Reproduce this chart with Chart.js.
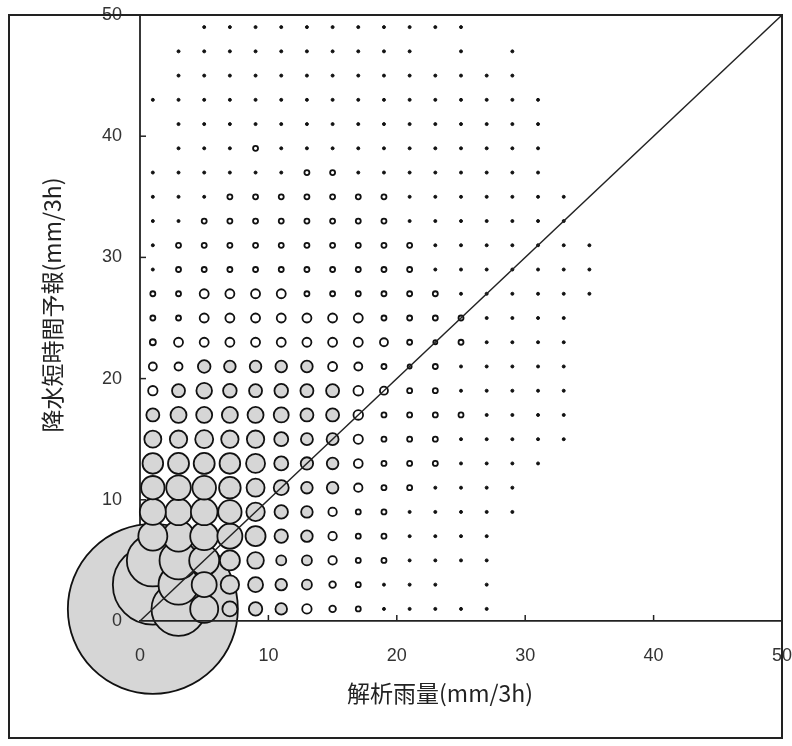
<!DOCTYPE html>
<html>
<head>
<meta charset="utf-8">
<script src="https://cdn.jsdelivr.net/npm/chart.js@4.4.1/dist/chart.umd.min.js"></script>
<style>
  html, body { margin: 0; padding: 0; background: #fff; }
  #wrap { width: 792px; height: 746px; }
</style>
</head>
<body>
<div id="wrap"><canvas id="c" width="792" height="746"></canvas></div>
<script>
// x categories: analysed rainfall class centres (mm/3h)
const analysisRain = [1,3,5,7,9,11,13,15,17,19,21,23,25,27,29,31,33,35];
// y categories: forecast rainfall class centres (mm/3h)
const forecastRain = [49,47,45,43,41,39,37,35,33,31,29,27,25,23,21,19,17,15,13,11,9,7,5,3,1];
// bubble radius (frequency) for each row, columns follow analysisRain; 0 = no data
const row49 = [0,0,1.5,1.5,1.5,1.5,1.5,1.5,1.5,1.5, 1.5,1.5,1.5,0,0,0,0,0];
const row47 = [0,1.5,1.5,1.5,1.5,1.5,1.5,1.5,1.5,1.5, 1.5,0,1.5,0,1.5,0,0,0];
const row45 = [0,1.5,1.5,1.5,1.5,1.5,1.5,1.5,1.5,1.5, 1.5,1.5,1.5,1.5,1.5,0,0,0];
const row43 = [1.5,1.5,1.5,1.5,1.5,1.5,1.5,1.5,1.5,1.5, 1.5,1.5,1.5,1.5,1.5,1.5,0,0];
const row41 = [0,1.5,1.5,1.5,1.5,1.5,1.5,1.5,1.5,1.5, 1.5,1.5,1.5,1.5,1.5,1.5,0,0];
const row39 = [0,1.5,1.5,1.5,2.5,1.5,1.5,1.5,1.5,1.5, 1.5,1.5,1.5,1.5,1.5,1.5,0,0];
const row37 = [1.5,1.5,1.5,1.5,1.5,1.5,2.5,2.5,1.5,1.5, 1.5,1.5,1.5,1.5,1.5,1.5,0,0];
const row35 = [1.5,1.5,1.5,2.5,2.5,2.5,2.5,2.5,2.5,2.5, 1.5,1.5,1.5,1.5,1.5,1.5,1.5,0];
const row33 = [1.5,1.5,2.5,2.5,2.5,2.5,2.5,2.5,2.5,2.5, 1.5,1.5,1.5,1.5,1.5,1.5,1.5,0];
const row31 = [1.5,2.5,2.5,2.5,2.5,2.5,2.5,2.5,2.5,2.5, 2.5,1.5,1.5,1.5,1.5,1.5,1.5,1.5];
const row29 = [1.5,2.5,2.5,2.5,2.5,2.5,2.5,2.5,2.5,2.5, 2.5,1.5,1.5,1.5,1.5,1.5,1.5,1.5];
const row27 = [2.5,2.5,4.5,4.5,4.5,4.5,2.5,2.5,2.5,2.5, 2.5,2.5,1.5,1.5,1.5,1.5,1.5,1.5];
const row25 = [2.5,2.5,4.5,4.5,4.5,4.5,4.5,4.5,4.5,2.5, 2.5,2.5,2.5,1.5,1.5,1.5,1.5,0];
const row23 = [3,4.5,4.5,4.5,4.5,4.5,4.5,4.5,4.5,4, 2.5,2,2.5,1.5,1.5,1.5,1.5,0];
const row21 = [4,4,6.3,5.8,5.8,5.8,5.8,4.5,4,2.5, 2,2.5,1.5,1.5,1.5,1.5,1.5,0];
const row19 = [4.7,6.5,7.8,6.8,6.5,6.8,6.5,6.5,4.8,4, 2.5,2.5,1.5,1.5,1.5,1.5,1.5,0];
const row17 = [6.5,8,8,8,8,7.5,6.5,6.5,4.8,2.5, 2.5,2.5,2.5,1.5,1.5,1.5,1.5,0];
const row15 = [8.5,8.7,9,8.7,8.7,7,6,6,4.6,2.5, 2.5,2.5,1.5,1.5,1.5,1.5,1.5,0];
const row13 = [10.3,10.5,10.5,10.3,9.5,7,6.2,5.8,4.4,2.5, 2.5,2.5,1.5,1.5,1.5,1.5,0,0];
const row11 = [11.7,12.3,11.8,10.8,9,7.5,5.8,5.8,4.2,2.5, 2.5,1.5,1.5,1.5,1.5,0,0,0];
const row9  = [13,13.3,13.3,11.7,9.2,6.7,5.8,4.2,2.5,2.5, 1.5,1.5,1.5,1.5,1.5,0,0,0];
const row7  = [14.5,15.5,14,12.5,10,6.7,5.8,4.2,2.5,2.5, 1.5,1.5,1.5,1.5,0,0,0,0];
const row5  = [26,19,15,10,8.3,5,5,4.2,2.5,2.5, 1.5,1.5,1.5,1.5,0,0,0,0];
const row3  = [40,20,12.5,9.2,7.5,5.8,5,3.3,2.5,1.5, 1.5,1.5,0,1.5,0,0,0,0];
const row1  = [85,27,14,7.5,6.7,5.8,4.7,3.3,2.5,1.5, 1.5,1.5,1.5,1.5,0,0,0,0];
const sizeRows = [row49,row47,row45,row43,row41,row39,row37,row35,row33,row31,row29,row27,row25,
                  row23,row21,row19,row17,row15,row13,row11,row9,row7,row5,row3,row1];
// axis ticks and 1:1 reference line
const tickValues = [0,10,20,30,40,50];
const diagonal = [{x:0,y:0},{x:50,y:50}];
const xTitle = '解析雨量(mm/3h)';
const yTitle = '降水短時間予報(mm/3h)';

// build bubble points (largest drawn first)
const points = [];
forecastRain.forEach((yv, ri) => {
  analysisRain.forEach((xv, ci) => {
    const r = sizeRows[ri][ci];
    if (r > 0) points.push({x: xv, y: yv, r: r});
  });
});
points.sort((a, b) => b.r - a.r);

const NUM_FONT = {family: '"Liberation Sans", Arial, sans-serif', size: 18};
const INK = '#222';

const decor = {
  id: 'decor',
  beforeDatasetsDraw(chart) {
    const {ctx, chartArea: a} = chart;
    ctx.save();
    ctx.strokeStyle = INK;
    ctx.lineWidth = 1.8;
    ctx.beginPath(); ctx.moveTo(a.left, a.top); ctx.lineTo(a.left, a.bottom); ctx.stroke();
    ctx.restore();
  },
  afterDraw(chart) {
    const {ctx, chartArea: a, scales: {x, y}} = chart;
    ctx.save();
    ctx.strokeStyle = INK;
    ctx.lineWidth = 1.5;
    tickValues.slice(1, -1).forEach(v => {
      const px = x.getPixelForValue(v);
      ctx.beginPath(); ctx.moveTo(px, a.bottom); ctx.lineTo(px, a.bottom - 6); ctx.stroke();
      const py = y.getPixelForValue(v);
      ctx.beginPath(); ctx.moveTo(a.left, py); ctx.lineTo(a.left + 6, py); ctx.stroke();
    });
    // outer frame
    ctx.lineWidth = 2;
    ctx.strokeRect(9, a.top, a.right - 9, 738 - a.top);
    // titles
    ctx.fillStyle = '#222';
    ctx.font = '23px "Noto Sans CJK JP", sans-serif';
    ctx.textAlign = 'center';
    ctx.textBaseline = 'middle';
    ctx.fillText(xTitle, 440, 693);
    ctx.translate(52, 305);
    ctx.rotate(-Math.PI / 2);
    ctx.fillText(yTitle, 0, 0);
    ctx.restore();
  }
};

new Chart(document.getElementById('c'), {
  data: {
    datasets: [
      {
        type: 'line',
        data: diagonal,
        borderColor: INK,
        borderWidth: 1.4,
        pointRadius: 0,
        fill: false,
        order: 0
      },
      {
        type: 'bubble',
        data: points,
        clip: false,
        order: 1,
        borderColor: '#111',
        backgroundColor: ctx => {
          const r = ctx.raw ? ctx.raw.r : 0;
          if (r <= 1.6) return '#111';
          return r >= 5 ? '#d6d6d6' : '#ffffff';
        },
        borderWidth: ctx => {
          const r = ctx.raw ? ctx.raw.r : 0;
          return r <= 1.6 ? 1 : 1.8;
        }
      }
    ]
  },
  options: {
    responsive: false,
    animation: false,
    events: [],
    layout: {autoPadding: false, padding: {left: 8, top: 15, right: 10, bottom: 0}},
    plugins: {legend: {display: false}, tooltip: {enabled: false}},
    scales: {
      x: {
        type: 'linear', min: 0, max: 50,
        afterFit: s => { s.height = 125; s.paddingLeft = 0; s.paddingRight = 0; },
        afterBuildTicks: s => { s.ticks = tickValues.map(v => ({value: v})); },
        ticks: {autoSkip: false, maxRotation: 0, padding: 24, font: NUM_FONT, color: '#333', z: 1},
        grid: {display: false, drawTicks: false},
        border: {display: true, color: INK, width: 1.8, z: 1}
      },
      y: {
        type: 'linear', min: 0, max: 50,
        afterFit: s => { s.width = 132; s.paddingTop = 0; s.paddingBottom = 0; },
        afterBuildTicks: s => { s.ticks = tickValues.map(v => ({value: v})); },
        ticks: {autoSkip: false, padding: 18, font: NUM_FONT, color: '#333', z: 1},
        grid: {display: false, drawTicks: false},
        border: {display: false}
      }
    }
  },
  plugins: [decor]
});
</script>
</body>
</html>
